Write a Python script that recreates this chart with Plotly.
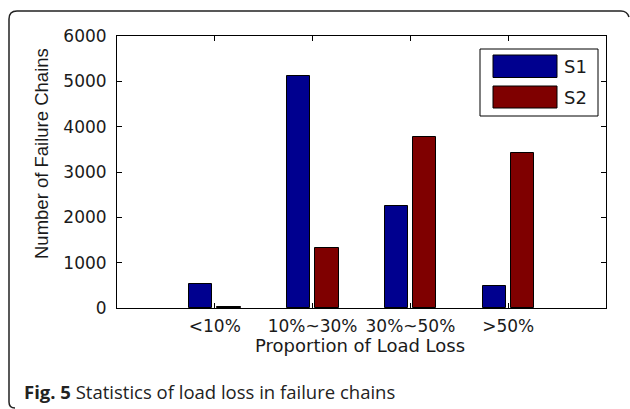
import plotly.graph_objects as go

categories = ["<10%", "10%~30%", "30%~50%", ">50%"]
series_names = ["S1", "S2"]
s1_values = [520, 5120, 2240, 480]
s2_values = [30, 1320, 3780, 3430]
y_ticks = [0, 1000, 2000, 3000, 4000, 5000, 6000]

colors = ["#00008f", "#7f0000"]

W, H = 630, 409
PL, PR, PT, PB = 117, 606, 36, 308


def px(x):
    return (x - PL) / (PR - PL)


def py(y):
    return (PB - y) / (PB - PT)


fig = go.Figure()
fig.add_trace(go.Bar(x=categories, y=s1_values, name=series_names[0],
                     marker=dict(color=colors[0], line=dict(color="black", width=1)),
                     offset=-0.26, width=0.235, showlegend=False))
fig.add_trace(go.Bar(x=categories, y=s2_values, name=series_names[1],
                     marker=dict(color=colors[1], line=dict(color="black", width=1)),
                     offset=0.025, width=0.24, showlegend=False))

tickfont = dict(family="DejaVu Sans", size=17, color="#1a1a1a")

fig.update_layout(
    width=W, height=H,
    margin=dict(l=PL, r=W - PR, t=PT, b=H - PB, pad=0),
    paper_bgcolor="white", plot_bgcolor="white",
    xaxis=dict(type="category", range=[-1, 4], showline=True, linecolor="black",
               linewidth=1, mirror="ticks", ticks="inside", ticklen=5,
               tickcolor="black", showgrid=False, zeroline=False,
               tickfont=tickfont, ticklabelstandoff=3),
    yaxis=dict(range=[0, 6000], tickvals=y_ticks, showline=True, linecolor="black",
               linewidth=1, mirror="ticks", ticks="inside", ticklen=5,
               tickcolor="black", showgrid=False, zeroline=False,
               tickfont=tickfont, ticklabelstandoff=6),
    bargap=0,
)

shapes = []
annotations = []

# legend box
shapes.append(dict(type="rect", xref="paper", yref="paper",
                   x0=px(480), x1=px(598), y0=py(116), y1=py(49),
                   line=dict(color="black", width=1), fillcolor="white"))
sw_rows = [(55, 77.5), (86, 108)]
for i, name in enumerate(series_names):
    y0, y1 = sw_rows[i]
    shapes.append(dict(type="rect", xref="paper", yref="paper",
                       x0=px(493), x1=px(557), y0=py(y1), y1=py(y0),
                       line=dict(color="black", width=1), fillcolor=colors[i]))
    annotations.append(dict(text=name, xref="paper", yref="paper",
                            x=px(562), y=py((y0 + y1) / 2), xanchor="left",
                            yanchor="middle", showarrow=False,
                            font=dict(family="DejaVu Sans", size=18, color="#1a1a1a")))

# axis titles
annotations.append(dict(text="Proportion of Load Loss", xref="paper", yref="paper",
                        x=px(360), y=py(345.5), xanchor="center", yanchor="middle",
                        showarrow=False,
                        font=dict(family="DejaVu Sans", size=18, color="#1a1a1a")))
annotations.append(dict(text="Number of Failure Chains", xref="paper", yref="paper",
                        x=px(41), y=py(154), xanchor="center", yanchor="middle",
                        textangle=-90, showarrow=False,
                        font=dict(family="Liberation Sans", size=18.5, color="#1a1a1a")))

# caption
annotations.append(dict(text="<b>Fig. 5</b> Statistics of load loss in failure chains",
                        xref="paper", yref="paper", x=px(22), y=py(391),
                        xanchor="left", yanchor="middle", showarrow=False,
                        font=dict(family="Open Sans", size=18.5, color="#222222")))

# rounded frame
def pt(x, y):
    return f"{px(x):.5f},{py(y):.5f}"

path = ("M " + pt(9, 402) + " L " + pt(9, 19) + " Q " + pt(9, 11) + " " + pt(17, 11)
        + " L " + pt(621, 11) + " Q " + pt(627, 11) + " " + pt(629, 17)
        + " M " + pt(9, 402) + " Q " + pt(9, 408) + " " + pt(15, 408))
shapes.append(dict(type="path", xref="paper", yref="paper", path=path,
                   line=dict(color="#222222", width=1.5)))

fig.update_layout(shapes=shapes, annotations=annotations)
fig.write_html("out.html", config={"displayModeBar": False},
               post_script="document.body.style.margin='0';document.body.style.overflow='hidden';")
